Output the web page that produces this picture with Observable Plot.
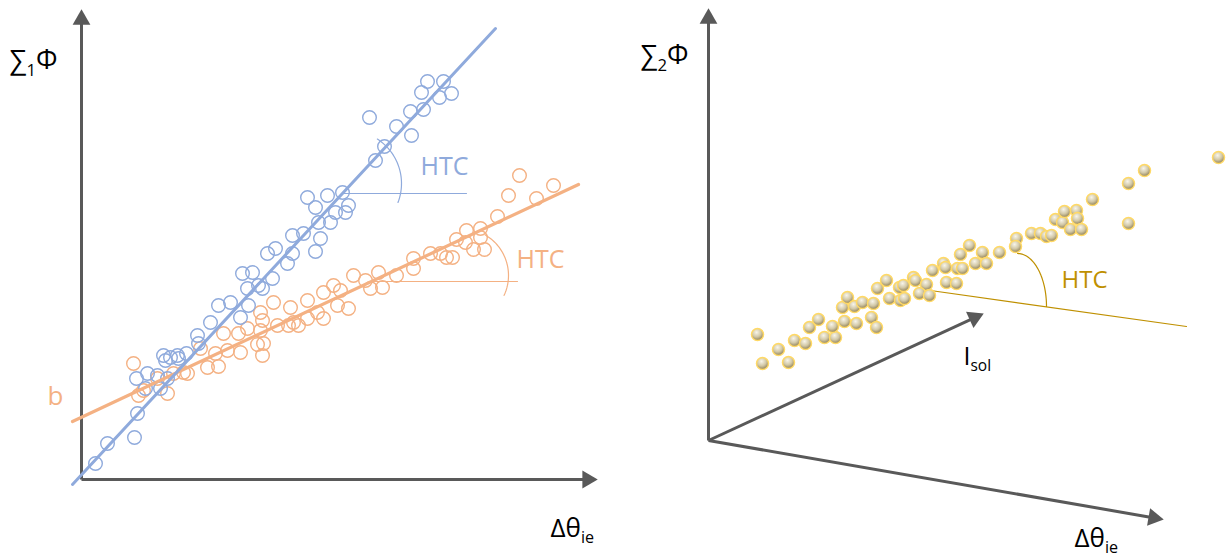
<!DOCTYPE html>
<html><head><meta charset="utf-8">
<script src="https://cdn.jsdelivr.net/npm/d3@7"></script>
<script src="https://cdn.jsdelivr.net/npm/@observablehq/plot@0.6"></script>
<style>html,body{margin:0;padding:0;background:#fff}#chart svg{display:block}</style>
</head><body><div id="chart"></div>
<script>
// ---- data (drawing units: x rightwards, y downwards) ----
const blueSeries = [[95,463],[107,443],[134,437],[137,413],[136,378],[147,373],[145,388],[160,388],[157,375],[167,378],[165,360],[170,357],[178,358],[186,353],[177,355],[163,355],[197,335],[198,343],[210,322],[218,305],[230,302],[248,305],[240,317],[247,288],[258,285],[262,288],[242,273],[252,272],[272,278],[267,253],[275,248],[287,263],[292,253],[292,235],[303,233],[315,251],[320,238],[318,222],[330,222],[345,212],[307,197],[315,207],[327,195],[335,212],[342,192],[348,205],[375,160],[384,146],[396,126],[411,135],[410,111],[423,109],[421,92],[439,97],[451,93],[427,81],[443,81],[369,117]];
const orangeSeries = [[133,363],[138,395],[143,390],[157,378],[167,393],[187,373],[183,372],[173,373],[207,367],[218,366],[215,353],[200,348],[227,350],[240,352],[262,355],[257,344],[263,343],[223,333],[238,333],[247,328],[260,330],[277,325],[288,325],[293,322],[260,312],[262,320],[273,302],[290,307],[298,325],[307,318],[307,300],[317,312],[323,318],[323,292],[333,285],[340,290],[337,305],[348,308],[353,275],[365,280],[370,288],[378,272],[382,287],[396,275],[413,258],[413,268],[430,253],[440,253],[446,257],[452,257],[456,239],[465,242],[466,230],[473,249],[480,228],[480,237],[484,249],[497,216],[508,195],[519,175],[536,198],[553,185]];
const ballSeries = [[757,334],[762,363],[778,349],[788,362],[794,340],[805,343],[809,327],[818,319],[824,337],[835,337],[832,326],[844,321],[856,323],[842,307],[847,297],[854,306],[862,302],[873,303],[871,317],[876,327],[877,288],[886,280],[889,298],[899,287],[900,300],[903,285],[904,298],[913,277],[915,280],[926,284],[919,293],[929,295],[932,270],[943,263],[945,267],[946,282],[957,268],[956,283],[960,254],[969,245],[975,263],[982,252],[986,263],[962,268],[999,252],[1016,238],[1015,246],[1031,233],[1040,233],[1046,236],[1051,235],[1055,219],[1062,222],[1064,211],[1076,210],[1077,218],[1070,229],[1081,229],[1092,199],[1128,183],[1128,223],[1144,170],[1218,157]];
const blueTrend = [[72,484],[495,28]];
const orangeTrend = [[72,421],[578,184]];
const blueRef = [[343,193],[466,193]];
const orangeRef = [[371,281],[517,281]];
const goldRef = [[930,290],[1186,326]];
// axes: [x1,y1,x2(tip),y2(tip)]
const axisSegments = [[81,479,81,9],[81,479,597,479],[708,440,708,8],[708,440,983,313],[708,440,1163,519]];
// angle arcs: centre, radii, start/end angle (deg)
const arcSpecs = [
  {cx:348, cy:183, rx:53, ry:53, a0:-57, a1:21, color:"#8FAADC"},
  {cx:461, cy:275, rx:47, ry:47, a0:-60, a1:25, color:"#F4B183"},
  {cx:1017, cy:306, rx:29, ry:53, a0:-90, a1:0, color:"#BF9000"}
];
const labels = [
  {x:9, y:68, text:"∑{1}Φ", color:"#000", size:27},
  {x:550, y:536, text:"Δθ{ie}", color:"#000", size:26},
  {x:47, y:404, text:"b", color:"#F4B183", size:26},
  {x:420, y:174, text:"HTC", color:"#8FAADC", size:25},
  {x:516, y:267, text:"HTC", color:"#F4B183", size:25},
  {x:640, y:63, text:"∑{2}Φ", color:"#000", size:27},
  {x:963, y:364, text:"I{sol}", color:"#000", size:25},
  {x:1074, y:546, text:"Δθ{ie}", color:"#000", size:26},
  {x:1061, y:287, text:"HTC", color:"#BF9000", size:24}
];

// ---- derived geometry ----
const HEAD = 10; // distance from tip to triangle centroid
const axisLines = axisSegments.map(([x1,y1,x2,y2]) => {
  const L = Math.hypot(x2-x1, y2-y1), ux = (x2-x1)/L, uy = (y2-y1)/L;
  return {x1, y1, x2: x2 - ux*12, y2: y2 - uy*12, hx: x2 - ux*HEAD, hy: y2 - uy*HEAD,
          angle: Math.atan2(uy, ux) * 180 / Math.PI + 90};
});
const arcPoints = arcSpecs.flatMap((s, i) => d3.range(0, 41).map(k => {
  const a = (s.a0 + (s.a1 - s.a0) * k / 40) * Math.PI / 180;
  return {arc: i, x: s.cx + s.rx * Math.cos(a), y: s.cy + s.ry * Math.sin(a), color: s.color};
}));

const chart = Plot.plot({
  width: 1230, height: 558, margin: 0,
  x: {domain: [0, 1230], axis: null},
  y: {domain: [558, 0], axis: null},
  style: {fontFamily: "'Open Sans', 'DejaVu Sans', sans-serif", background: "#fff"},
  marks: [
    Plot.link(axisLines, {x1: "x1", y1: "y1", x2: "x2", y2: "y2", stroke: "#595959", strokeWidth: 3}),
    Plot.dot(axisLines, {x: "hx", y: "hy", symbol: "triangle", r: 6.6, rotate: "angle", fill: "#595959", stroke: null}),
    Plot.dot(orangeSeries, {x: d => d[0], y: d => d[1], r: 6.8, stroke: "#F4B183", strokeWidth: 1.4, fill: "none"}),
    Plot.dot(blueSeries, {x: d => d[0], y: d => d[1], r: 6.8, stroke: "#8FAADC", strokeWidth: 1.4, fill: "none"}),
    Plot.line(orangeTrend, {x: d => d[0], y: d => d[1], stroke: "#F4B183", strokeWidth: 3.2}),
    Plot.line(blueTrend, {x: d => d[0], y: d => d[1], stroke: "#8FAADC", strokeWidth: 3}),
    Plot.line(blueRef, {x: d => d[0], y: d => d[1], stroke: "#8FAADC", strokeWidth: 1.2}),
    Plot.line(orangeRef, {x: d => d[0], y: d => d[1], stroke: "#F4B183", strokeWidth: 1.2}),
    Plot.line(goldRef, {x: d => d[0], y: d => d[1], stroke: "#BF9000", strokeWidth: 1.2}),
    Plot.line(arcPoints, {x: "x", y: "y", z: "arc", stroke: "color", strokeWidth: 1.2}),
    Plot.dot(ballSeries, {x: d => d[0], y: d => d[1], r: 6, fill: "url(#ballGrad)", stroke: "#FFD966", strokeWidth: 1.5}),
    ...labels.map(l => Plot.text([l], {x: "x", y: "y", text: "text", fill: l.color, fontSize: l.size,
      textAnchor: "start", lineAnchor: "bottom"}))
  ]
});

// gradient for the 3D balls
const defs = d3.select(chart).insert("defs", ":first-child");
const grad = defs.append("radialGradient").attr("id", "ballGrad")
  .attr("cx", "42%").attr("cy", "32%").attr("r", "68%");
grad.append("stop").attr("offset", "0%").attr("stop-color", "#f8f5ea");
grad.append("stop").attr("offset", "55%").attr("stop-color", "#d2c8a6");
grad.append("stop").attr("offset", "100%").attr("stop-color", "#8f8058");

document.getElementById("chart").appendChild(chart);

// subscripts: text inside {…}
d3.select(chart).selectAll("text").each(function() {
  const s = this.textContent;
  if (!s.includes("{")) return;
  const fs = parseFloat(getComputedStyle(this).fontSize) || 24;
  const shift = fs * 0.26;
  const parts = s.split(/(\{[^}]*\})/).filter(p => p);
  this.textContent = "";
  let down = false;
  for (const p of parts) {
    const t = d3.select(this).append("tspan");
    if (p.startsWith("{")) {
      t.text(p.slice(1, -1)).attr("font-size", (fs * 0.62) + "px");
      if (!down) { t.attr("dy", shift); down = true; }
    } else {
      t.text(p);
      if (down) { t.attr("dy", -shift); down = false; }
    }
  }
});
</script>
</body></html>
